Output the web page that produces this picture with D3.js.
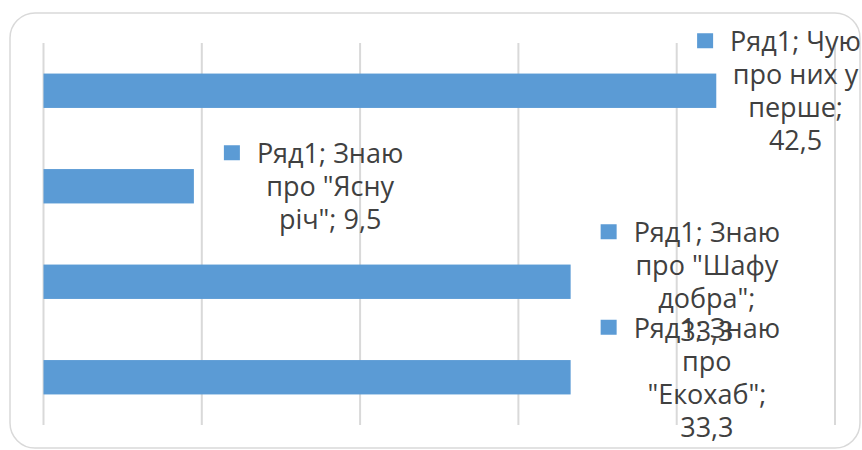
<!DOCTYPE html>
<html><head><meta charset="utf-8">
<script src="https://cdn.jsdelivr.net/npm/d3@7"></script>
<style>html,body{margin:0;padding:0;background:#fff;}</style>
</head><body>
<svg id="c" width="862" height="450"></svg>
<script>
// ---- data ----
const seriesName = "Ряд1";
const categories = ["Чую про них у перше", "Знаю про \"Ясну річ\"", "Знаю про \"Шафу добра\"", "Знаю про \"Екохаб\""];
const values = [42.5, 9.5, 33.3, 33.3];
const xTicks = [0, 10, 20, 30, 40, 50];
const labelWrapWidths = [145, 152, 152, 152];

// ---- layout ----
const W = 862, H = 450;
const plot = {left: 43.5, right: 835, top: 43, bottom: 425};
const barColor = "#5B9BD5";
const gridColor = "#d9d9d9";
const textColor = "#404040";
const fontFamily = "'Open Sans', 'Noto Sans', sans-serif";
const fontSize = 27;
const lineH = 33;

const svg = d3.select("#c");

// chart border
svg.append("rect")
  .attr("x", 10).attr("y", 13).attr("width", 850).attr("height", 435)
  .attr("rx", 25).attr("ry", 25)
  .attr("fill", "#fff").attr("stroke", gridColor).attr("stroke-width", 1.5);

const x = d3.scaleLinear().domain([0, 50]).range([plot.left, plot.right]);
const y = d3.scaleBand().domain(categories).range([plot.top, plot.bottom])
  .paddingInner(0.64).paddingOuter(0.32);

// gridlines
svg.append("g").selectAll("line").data(xTicks).join("line")
  .attr("x1", d => x(d)).attr("x2", d => x(d))
  .attr("y1", plot.top).attr("y2", plot.bottom)
  .attr("stroke", gridColor).attr("stroke-width", 2);

// bars
svg.append("g").selectAll("rect").data(categories).join("rect")
  .attr("x", x(0))
  .attr("y", d => y(d))
  .attr("width", (d, i) => x(values[i]) - x(0))
  .attr("height", y.bandwidth())
  .attr("fill", barColor);

// data labels with legend key
const fmt = v => String(v).replace(".", ",");
const measurer = svg.append("text").attr("font-family", fontFamily).attr("font-size", fontSize).attr("opacity", 0);
const measure = s => { measurer.text(s); return measurer.node().getComputedTextLength(); };

function wrap(str, maxW) {
  const words = str.split(" ");
  const lines = [];
  let cur = "";
  words.forEach(w => {
    const t = cur ? cur + " " + w : w;
    if (cur && measure(t) > maxW) { lines.push(cur); cur = w; }
    else cur = t;
  });
  if (cur) lines.push(cur);
  return lines;
}

const labelsG = svg.append("g");
categories.forEach((c, i) => {
  const str = seriesName + "; " + c + "; " + fmt(values[i]);
  const lines = wrap(str, labelWrapWidths[i]);
  const maxW = d3.max(lines, measure);
  let keyX = x(values[i]) + 30;
  const limit = W - 1 - maxW - 33;
  if (keyX > limit) keyX = limit;
  const textCx = keyX + 33 + maxW / 2;
  const barC = y(c) + y.bandwidth() / 2;
  const midBase = barC + 10;
  const firstBase = midBase - (lines.length - 1) * lineH / 2;
  labelsG.append("rect")
    .attr("x", keyX).attr("y", firstBase - 18)
    .attr("width", 16).attr("height", 15)
    .attr("fill", barColor);
  const t = labelsG.append("text")
    .attr("font-family", fontFamily).attr("font-size", fontSize)
    .attr("fill", textColor).attr("text-anchor", "middle");
  lines.forEach((ln, j) => {
    t.append("tspan").attr("x", textCx).attr("y", firstBase + j * lineH).text(ln);
  });
});
measurer.remove();
</script>
</body></html>
